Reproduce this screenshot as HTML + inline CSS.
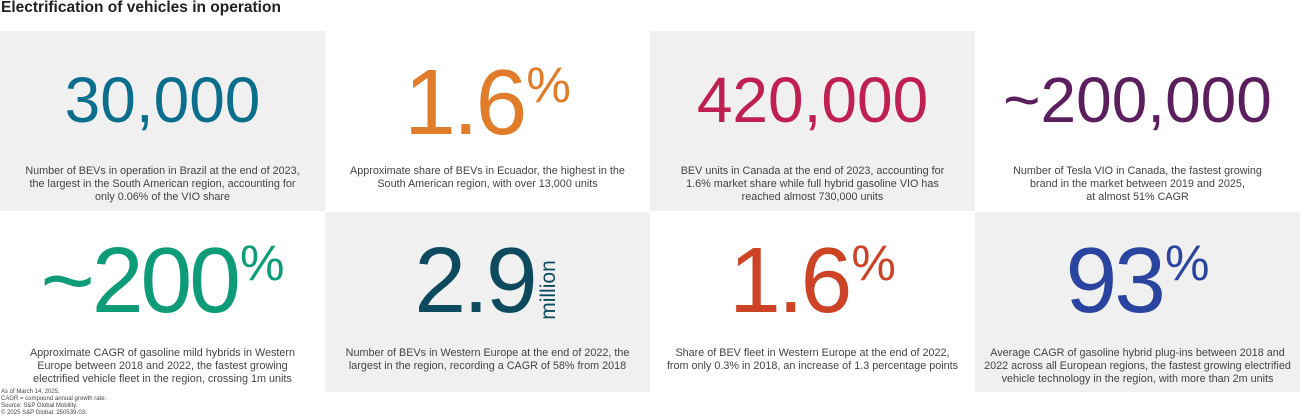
<!DOCTYPE html>
<html><head><meta charset="utf-8"><style>
*{margin:0;padding:0;box-sizing:border-box}
body{width:1300px;height:420px;background:#fff;font-family:"Liberation Sans",sans-serif;position:relative;overflow:hidden;color:#333}
.title{position:absolute;left:1px;top:-1px;font-size:15.5px;font-weight:bold;color:#222}
.t{position:absolute;width:325px;height:180px}
.g{background:#f0f0f0}
.n{position:absolute;left:0;width:325px;text-align:center;line-height:1;white-space:nowrap}
.s{font-size:64px;top:36.5px}
.b{font-size:93px;top:25px;letter-spacing:-3px}
.p{font-size:50px;vertical-align:top;position:relative;top:4px;letter-spacing:0;margin-left:2px}
.d{position:absolute;left:0;width:325px;top:134px;text-align:center;font-size:10.8px;line-height:13px;color:#444}
.foot{position:absolute;left:1px;top:389px;font-size:6px;line-height:7px;color:#444}
</style></head><body>
<div class="title">Electrification of vehicles in operation</div>

<div class="t g" style="left:0;top:31px">
<div class="n s" style="color:#0a6e8c">30,000</div>
<div class="d">Number of BEVs in operation in Brazil at the end of 2023,<br>the largest in the South American region, accounting for<br>only 0.06% of the VIO share</div></div>

<div class="t" style="left:325px;top:31px">
<div class="n b" style="color:#e07c2a">1.6<span class="p">%</span></div>
<div class="d">Approximate share of BEVs in Ecuador, the highest in the<br>South American region, with over 13,000 units</div></div>

<div class="t g" style="left:650px;top:31px">
<div class="n s" style="color:#c01f52">420,000</div>
<div class="d">BEV units in Canada at the end of 2023, accounting for<br>1.6% market share while full hybrid gasoline VIO has<br>reached almost 730,000 units</div></div>

<div class="t" style="left:975px;top:31px">
<div class="n s" style="color:#5b1f5e">~200,000</div>
<div class="d">Number of Tesla VIO in Canada, the fastest growing<br>brand in the market between 2019 and 2025,<br>at almost 51% CAGR</div></div>

<div class="t" style="left:0;top:212px">
<div class="n b" style="color:#0e9c78;top:22px">~200<span class="p">%</span></div>
<div class="d" style="top:135px">Approximate CAGR of gasoline mild hybrids in Western<br>Europe between 2018 and 2022, the fastest growing<br>electrified vehicle fleet in the region, crossing 1m units</div></div>

<div class="t g" style="left:325px;top:212px">
<div class="n b" style="color:#0d4a5e;top:22px">2.9<span style="display:inline-block;width:26px"></span></div>
<div style="position:absolute;left:214px;top:33px;width:20px;height:90px;"><div style="position:absolute;left:-35px;top:35px;width:90px;height:20px;transform:rotate(-90deg);font-size:21px;line-height:20px;color:#0d4a5e;text-align:center">million</div></div>
<div class="d" style="top:135px">Number of BEVs in Western Europe at the end of 2022, the<br>largest in the region, recording a CAGR of 58% from 2018</div></div>

<div class="t" style="left:650px;top:212px">
<div class="n b" style="color:#cc4326;top:22px">1.6<span class="p">%</span></div>
<div class="d" style="top:135px">Share of BEV fleet in Western Europe at the end of 2022,<br>from only 0.3% in 2018, an increase of 1.3 percentage points</div></div>

<div class="t g" style="left:975px;top:212px">
<div class="n b" style="color:#2a44a0;top:22px">93<span class="p">%</span></div>
<div class="d" style="top:135px">Average CAGR of gasoline hybrid plug-ins between 2018 and<br>2022 across all European regions, the fastest growing electrified<br>vehicle technology in the region, with more than 2m units</div></div>

<div class="foot">As of March 14, 2025.<br>CAGR = compound annual growth rate.<br>Source: S&amp;P Global Mobility.<br>© 2025 S&amp;P Global: 250539-03.</div>
</body></html>
